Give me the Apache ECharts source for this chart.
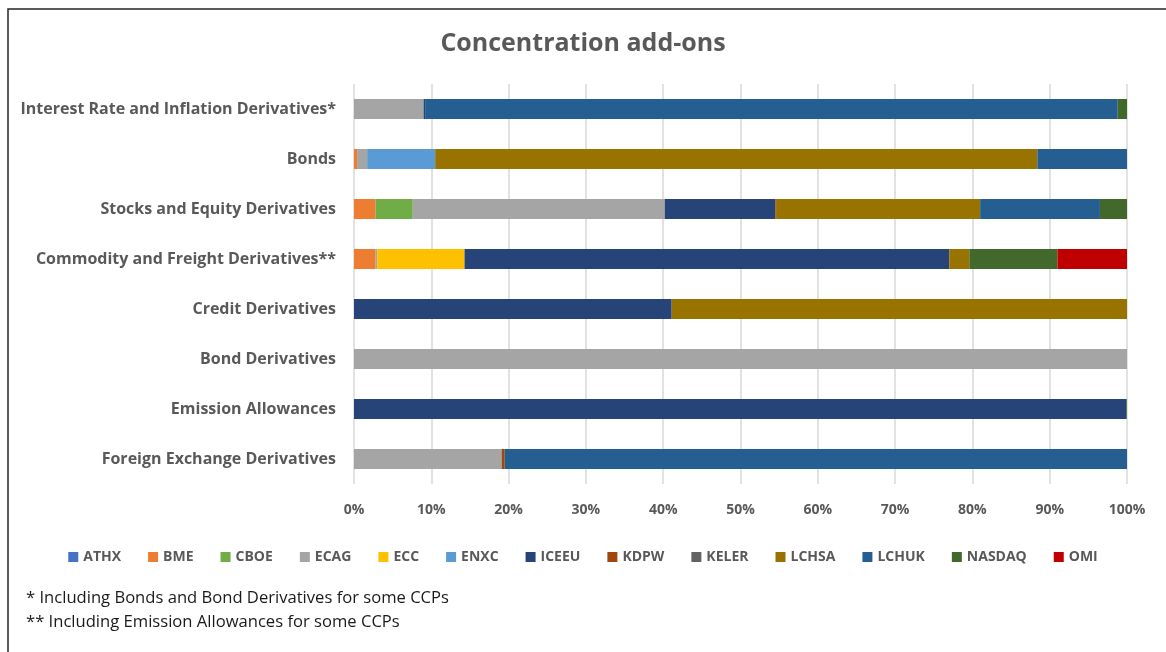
<!DOCTYPE html>
<html>
<head>
<meta charset="utf-8">
<script src="https://cdn.jsdelivr.net/npm/echarts@6/dist/echarts.min.js"></script>
<style>
html,body{margin:0;padding:0;background:#fff;}
#chart{width:1166px;height:652px;}
</style>
</head>
<body>
<div id="chart"></div>
<script>
const categories = [
  "Interest Rate and Inflation Derivatives*",
  "Bonds",
  "Stocks and Equity Derivatives",
  "Commodity and Freight Derivatives**",
  "Credit Derivatives",
  "Bond Derivatives",
  "Emission Allowances",
  "Foreign Exchange Derivatives"
];
const seriesNames = ["ATHX","BME","CBOE","ECAG","ECC","ENXC","ICEEU","KDPW","KELER","LCHSA","LCHUK","NASDAQ","OMI"];
const colors = ["#4472C4","#ED7D31","#70AD47","#A5A5A5","#FFC000","#5B9BD5","#264478","#9E480E","#636363","#997300","#255E91","#43682B","#C00000"];
// values in % per category (same order as categories)
const ATHX   = [0, 0, 0, 0, 0, 0, 0, 0];
const BME    = [0, 0.4, 2.8, 2.8, 0, 0, 0, 0];
const CBOE   = [0, 0, 4.8, 0, 0, 0, 0, 0];
const ECAG   = [9.0, 1.3, 32.6, 0.2, 0, 100, 0, 19.1];
const ECC    = [0, 0, 0, 11.3, 0, 0, 0, 0];
const ENXC   = [0, 8.8, 0, 0, 0, 0, 0, 0];
const ICEEU  = [0.2, 0, 14.3, 62.7, 41.1, 0, 99.9, 0];
const KDPW   = [0, 0, 0.1, 0, 0, 0, 0, 0.4];
const KELER  = [0, 0, 0, 0, 0, 0, 0, 0];
const LCHSA  = [0, 77.9, 26.4, 2.6, 58.9, 0, 0, 0];
const LCHUK  = [89.6, 11.6, 15.5, 0, 0, 0, 0, 80.5];
const NASDAQ = [1.2, 0, 3.5, 11.4, 0, 0, 0.1, 0];
const OMI    = [0, 0, 0, 9.0, 0, 0, 0, 0];
const values = [ATHX,BME,CBOE,ECAG,ECC,ENXC,ICEEU,KDPW,KELER,LCHSA,LCHUK,NASDAQ,OMI];
const xTicks = [0,10,20,30,40,50,60,70,80,90,100];

const chart = echarts.init(document.getElementById('chart'));
const font = "'Open Sans', 'Liberation Sans', sans-serif";
chart.setOption({
  animation: false,
  backgroundColor: '#fff',
  color: colors,
  title: {
    text: 'Concentration add-ons',
    left: 'center', top: 26,
    textStyle: {fontFamily: font, fontSize: 25, fontWeight: 'bold', color: '#595959'}
  },
  legend: {
    data: seriesNames,
    top: 545, left: 'center',
    itemWidth: 10, itemHeight: 10, itemGap: 27,
    icon: 'rect',
    textStyle: {fontFamily: font, fontSize: 14, fontWeight: 'bold', color: '#595959'}
  },
  grid: {left: 354, right: 39, top: 84, bottom: 168, containLabel: false},
  xAxis: {
    type: 'value', min: 0, max: 100, interval: 10,
    axisLine: {show: false}, axisTick: {show: false},
    splitLine: {lineStyle: {color: '#d9d9d9', width: 1.5}},
    axisLabel: {formatter: v => v + '%', fontFamily: font, fontSize: 14, fontWeight: 'bold', color: '#595959', margin: 19}
  },
  yAxis: {
    type: 'category', data: categories, inverse: true,
    axisLine: {show: false}, axisTick: {show: false},
    axisLabel: {fontFamily: font, fontSize: 16, fontWeight: 'bold', color: '#595959', margin: 18}
  },
  series: seriesNames.map((n, i) => ({
    name: n, type: 'bar', stack: 'total', barWidth: 20,
    data: values[i],
    itemStyle: {color: colors[i]}
  })),
  graphic: [
    {type: 'rect', shape: {x: 8, y: 9, width: 1200, height: 700}, style: {fill: 'none', stroke: '#262626', lineWidth: 1.5}, silent: true},
    {type: 'text', left: 26, top: 590, style: {text: '* Including Bonds and Bond Derivatives for some CCPs', font: "16.6px 'Open Sans', sans-serif", fill: '#1a1a1a'}},
    {type: 'text', left: 26, top: 614, style: {text: '** Including Emission Allowances for some CCPs', font: "16.6px 'Open Sans', sans-serif", fill: '#1a1a1a'}}
  ]
});
</script>
</body>
</html>
